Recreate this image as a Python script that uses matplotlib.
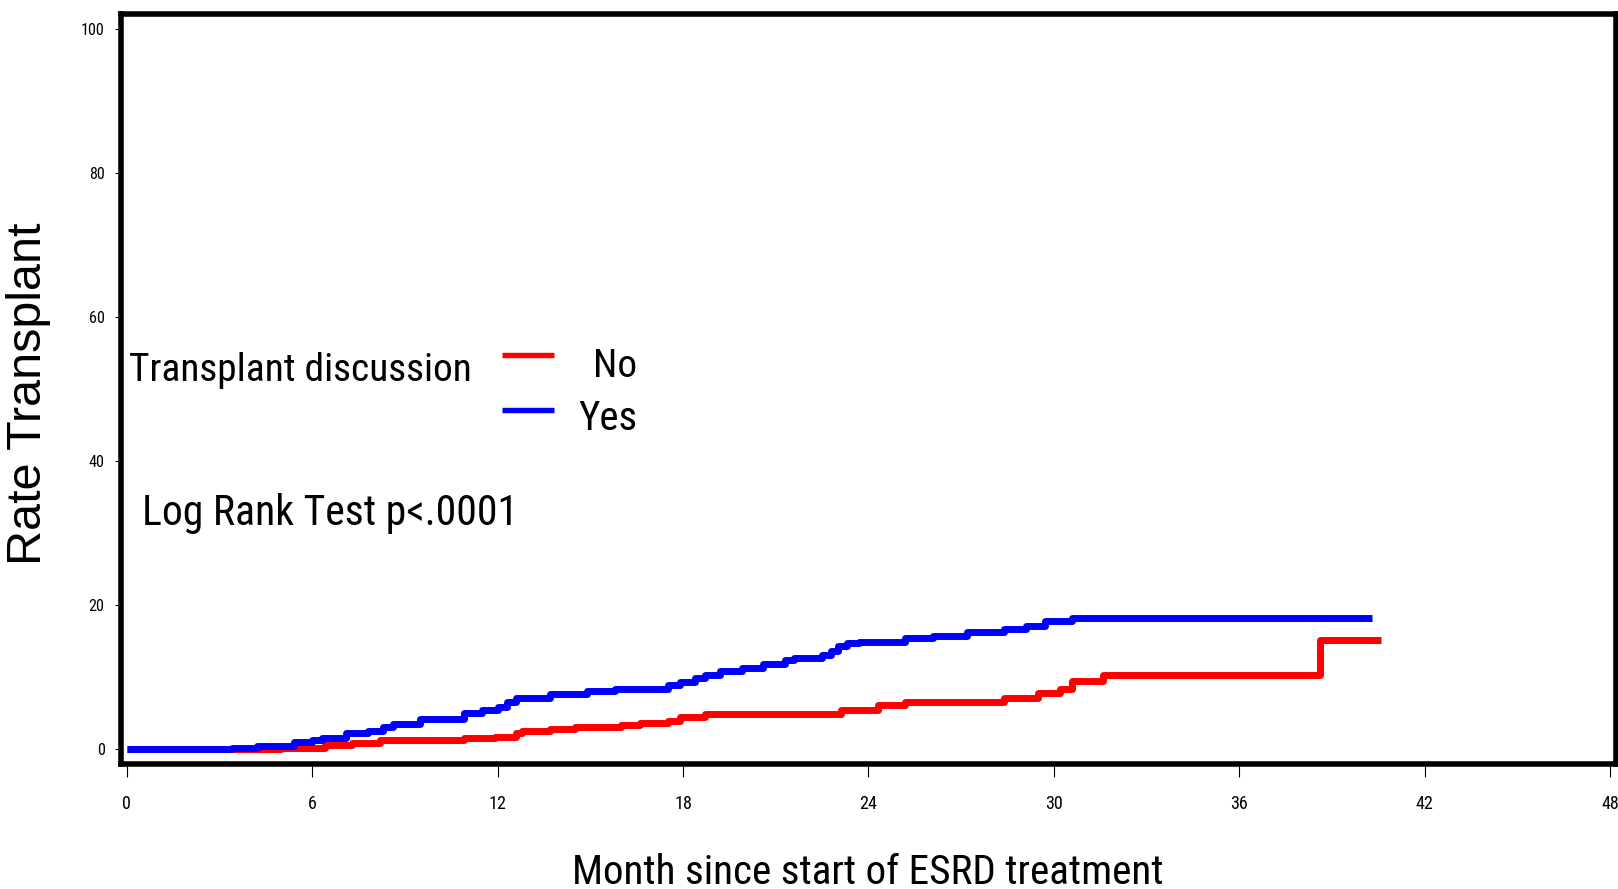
import matplotlib
matplotlib.use("Agg")
import matplotlib.pyplot as plt
from matplotlib.lines import Line2D
from matplotlib import font_manager as fm
import os

# ---- data ----
t_yes = [0, 3.4, 4.2, 5.4, 6.0, 6.3, 7.1, 7.8, 8.3, 8.6, 9.5, 10.9, 11.5, 12.0,
         12.3, 12.6, 13.7, 14.9, 15.8, 17.5, 17.9, 18.4, 18.7, 19.2, 19.9, 20.6,
         21.3, 21.6, 22.5, 22.8, 23.0, 23.3, 23.7, 25.2, 26.1, 27.2, 28.4, 29.1,
         29.7, 30.6, 40.3]
v_yes = [0, 0.15, 0.45, 1.0, 1.2, 1.5, 2.2, 2.5, 3.0, 3.5, 4.2, 5.0, 5.4, 5.9,
         6.5, 7.1, 7.7, 8.1, 8.4, 8.9, 9.3, 9.8, 10.3, 10.9, 11.3, 11.8,
         12.3, 12.6, 13.0, 13.6, 14.3, 14.7, 14.9, 15.4, 15.7, 16.2, 16.7, 17.1,
         17.8, 18.2, 18.2]

t_no = [0, 3.4, 5.0, 6.4, 7.3, 8.2, 10.9, 11.9, 12.6, 12.8, 13.7, 14.5, 16.0,
        16.6, 17.5, 17.9, 18.7, 23.1, 24.3, 25.2, 28.4, 29.5, 30.2, 30.6, 31.6,
        38.6, 40.6]
v_no = [0, 0.05, 0.15, 0.55, 0.8, 1.2, 1.5, 1.7, 2.2, 2.5, 2.8, 3.1, 3.3,
        3.6, 3.9, 4.5, 4.9, 5.4, 6.1, 6.5, 7.1, 7.8, 8.3, 9.5, 10.3,
        15.2, 15.2]

x_ticks = [0, 6, 12, 18, 24, 30, 36, 42, 48]
y_ticks = [0, 20, 40, 60, 80, 100]
series_labels = ["No", "Yes"]
legend_title = "Transplant discussion"
note = "Log Rank Test p<.0001"
xlabel = "Month since start of ESRD treatment"
ylabel = "Rate Transplant"

# ---- fonts: prefer a narrow/condensed sans if one is installed ----
def find_narrow():
    prefs = ["liberationsansnarrow-regular", "arialn", "arialnarrow",
             "robotocondensed-regular", "dejavusanscondensed.",
             "opensans-condensed", "notosans-condensed", "notosanscondensed-regular"]
    files = [f.fname for f in fm.fontManager.ttflist]
    for p in prefs:
        for fn in files:
            if p in os.path.basename(fn).lower().replace(" ", ""):
                return fm.FontProperties(fname=fn)
    return None

NARROW = find_narrow()
REGULAR = fm.FontProperties(family=["Liberation Sans", "DejaVu Sans"])
if NARROW is None:
    NARROW = REGULAR

W, H = 1618, 889
fig = plt.figure(figsize=(W / 100, H / 100), dpi=100)
fig.patch.set_facecolor("white")
renderer = fig.canvas.get_renderer()


def fx(px):
    return px / W


def fy(py):
    return 1 - py / H


def fit(txt, target, along="w"):
    for _ in range(2):
        bb = txt.get_window_extent(renderer)
        cur = bb.width if along == "w" else bb.height
        txt.set_fontsize(txt.get_fontsize() * target / cur)


ax = fig.add_axes([fx(121), fy(763.5), fx(1615.5) - fx(121), fy(13.5) - fy(763.5)])

l_no, = ax.plot(t_no, v_no, drawstyle="steps-post", color="#ff0000", lw=5,
                solid_capstyle="butt", zorder=3)
l_yes, = ax.plot(t_yes, v_yes, drawstyle="steps-post", color="#0000ff", lw=5,
                 solid_capstyle="butt", zorder=3)

ax.set_xlim(-0.19, 48.18)
ax.set_ylim(-2.01, 102.15)
ax.set_xticks(x_ticks)
ax.set_yticks(y_ticks)

# tick label sizes fitted to the widths in the reference ("42" ~18px, "100" ~24px)
probe = fig.text(0, 0, "42", fontproperties=NARROW.copy(), fontsize=15)
fit(probe, 18)
xt_size = min(probe.get_fontsize(), 16)
probe.set_text("100")
probe.set_fontsize(13.5)
fit(probe, 24)
yt_size = min(probe.get_fontsize(), 14)
probe.remove()

ax.set_xticklabels([str(v) for v in x_ticks], fontproperties=NARROW.copy(), fontsize=xt_size)
ax.set_yticklabels([str(v) for v in y_ticks], fontproperties=NARROW.copy(), fontsize=yt_size)
ax.tick_params(axis="x", direction="out", length=9.7, width=0.8, pad=13)
ax.tick_params(axis="y", direction="out", length=4.3, width=0.8, pad=7.5)
for s in ax.spines.values():
    s.set_linewidth(4)
    s.set_color("black")

# axis titles
yl = fig.text(fx(29), fy(394), ylabel, rotation=90, ha="center", va="center",
              fontproperties=REGULAR.copy(), fontsize=32)
fit(yl, 342, along="h")
xl = fig.text(fx(868), fy(884), xlabel, ha="center", va="baseline",
              fontproperties=NARROW.copy(), fontsize=32)
fit(xl, 591)

# legend (manual, SAS-like)
lt = fig.text(fx(129), fy(381), legend_title, ha="left", va="baseline",
              fontproperties=NARROW.copy(), fontsize=31)
fit(lt, 343)
for line, lab, ly, tb, wid in [(l_no, series_labels[0], 355, 377, 44),
                               (l_yes, series_labels[1], 410, 430, 59)]:
    fig.add_artist(Line2D([fx(502), fx(554)], [fy(ly), fy(ly)],
                          transform=fig.transFigure, color=line.get_color(),
                          lw=3.9, solid_capstyle="butt"))
    t = fig.text(fx(637), fy(tb), lab, ha="right", va="baseline",
                 fontproperties=NARROW.copy(), fontsize=31)
    fit(t, wid)

nt = fig.text(fx(142), fy(525), note, ha="left", va="baseline",
              fontproperties=NARROW.copy(), fontsize=31)
fit(nt, 376)

fig.savefig("out.png", dpi=100, facecolor="white")
